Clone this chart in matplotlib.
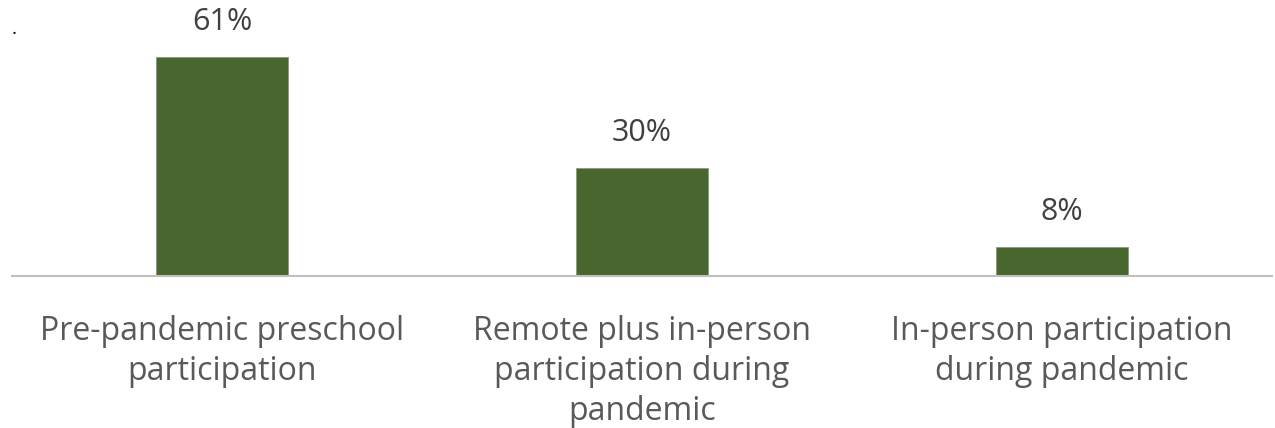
import matplotlib
matplotlib.use("Agg")
import matplotlib.pyplot as plt

categories = ["Pre-pandemic preschool\nparticipation",
              "Remote plus in-person\nparticipation during\npandemic",
              "In-person participation\nduring pandemic"]
values = [61, 30, 8]
value_labels = ["61%", "30%", "8%"]

plt.rcParams['font.family'] = ['Open Sans', 'DejaVu Sans']

fig = plt.figure(figsize=(12.75, 4.28), dpi=100)
ax = fig.add_axes([12/1275, (428-276)/428, 1260/1275, 276/428])
x = range(len(values))
bars = ax.bar(x, values, width=0.314, color="#48672f", edgecolor="#8a9a80", linewidth=0.6, zorder=2)
ax.set_xlim(-0.5, 2.5)
ax.set_ylim(0, 76.8)
for s in ["top", "right", "left"]:
    ax.spines[s].set_visible(False)
ax.spines["bottom"].set_color("#bfbfbf")
ax.spines["bottom"].set_linewidth(1.5)
ax.set_yticks([])
ax.set_xticks(list(x))
ax.set_xticklabels(categories, fontsize=23, color="#595959", linespacing=1.28)
ax.tick_params(axis="x", length=0, pad=28)
for xi, v, lab in zip(x, values, value_labels):
    ax.annotate(lab, (xi, v), xytext=(0, 20), textcoords="offset pixels",
                ha="center", va="bottom", fontsize=22, color="#404040")
fig.text(14/1275, 1 - 38/428, ".", fontsize=14, color="black", ha="center", va="bottom")
fig.savefig("out.png", dpi=100)
